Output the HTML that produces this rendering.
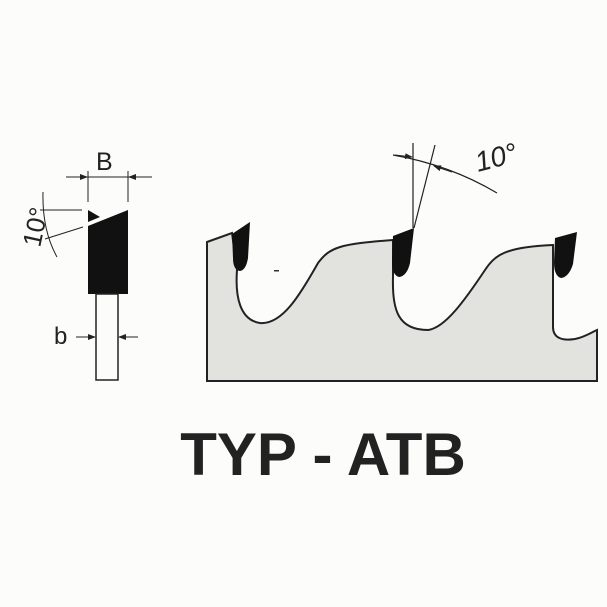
<!DOCTYPE html>
<html><head><style>
html,body{margin:0;padding:0;background:#fcfcfa;}
svg{display:block}
</style></head><body>
<svg width="607" height="607" viewBox="0 0 607 607" xmlns="http://www.w3.org/2000/svg">
<defs>
<marker id="ar" markerWidth="8" markerHeight="6" refX="7" refY="3" orient="auto" markerUnits="userSpaceOnUse"><path d="M0,0 L8,3 L0,6z" fill="#222"/></marker>
</defs>
<rect width="607" height="607" fill="#fcfcfa"/>
<!-- blade -->
<path d="M207,242 L232,233 L237,270 C235,297 240,320 260,323 C282,325 300,295 318,263 C330,247 340,244 393,240 L393,277 C392,310 398,330 428,330 C445,328 465,300 485,270 C495,255 505,247 553,245 L553,327 C553,338 562,341 575,339 C585,337 592,332 597,330 L597,381 L207,381 Z" fill="#e2e2df" stroke="#222" stroke-width="2"/>
<!-- teeth -->
<path d="M232,234 L250,222 L248,258 Q246,270 240,271 Q233,270 233,258 Z" fill="#111"/>
<path d="M393,236 L414,228 L410,263 Q407,276 399,277 Q392,275 392,262 Z" fill="#111"/>
<path d="M555,238 L577,232 L573,264 Q569,277 561,278 Q554,276 554,262 Z" fill="#111"/>
<rect x="274" y="270" width="5" height="1.5" fill="#333"/>
<!-- angle on right -->
<line x1="413" y1="143" x2="413" y2="228" stroke="#222" stroke-width="1.2"/>
<line x1="435" y1="145" x2="414" y2="228" stroke="#222" stroke-width="1.2"/>
<path d="M393,155 Q450,165 497,193" fill="none" stroke="#222" stroke-width="1.2"/>
<line x1="395" y1="155" x2="412" y2="157" stroke="#222" stroke-width="1" marker-end="url(#ar)"/>
<line x1="452" y1="172" x2="434" y2="166" stroke="#222" stroke-width="1" marker-end="url(#ar)"/>
<text x="478" y="172" font-family="Liberation Sans, sans-serif" font-size="28" fill="#222" font-style="italic" transform="rotate(-15 478 172)">10°</text>
<!-- left side view -->
<line x1="66" y1="177" x2="152" y2="177" stroke="#222" stroke-width="1"/>
<line x1="70" y1="177" x2="87" y2="177" stroke="#222" marker-end="url(#ar)"/>
<line x1="148" y1="177" x2="129" y2="177" stroke="#222" marker-end="url(#ar)"/>
<line x1="88" y1="171" x2="88" y2="202" stroke="#222" stroke-width="1"/>
<line x1="128" y1="171" x2="128" y2="202" stroke="#222" stroke-width="1"/>
<text x="96" y="170" font-family="Liberation Sans, sans-serif" font-size="25" fill="#222">B</text>
<path d="M88,210 L100,217 L88,222 Z" fill="#111"/>
<path d="M88,226 L128,210 L128,294 L88,294 Z" fill="#111"/>
<rect x="96" y="294" width="22" height="86" fill="#fcfcfa" stroke="#222" stroke-width="1.5"/>
<line x1="76" y1="337" x2="95" y2="337" stroke="#222" marker-end="url(#ar)"/>
<line x1="138" y1="337" x2="119" y2="337" stroke="#222" marker-end="url(#ar)"/>
<text x="54" y="344" font-family="Liberation Sans, sans-serif" font-size="24" fill="#222">b</text>
<line x1="40" y1="210" x2="82" y2="210" stroke="#222" stroke-width="1"/>
<line x1="45" y1="239" x2="83" y2="227" stroke="#222" stroke-width="1"/>
<path d="M43,192 Q42,230 57,257" fill="none" stroke="#222" stroke-width="1"/>
<text x="40" y="248" font-family="Liberation Sans, sans-serif" font-size="26" fill="#222" transform="rotate(-78 40 248)">10°</text>
<!-- title -->
<text x="323" y="475" text-anchor="middle" font-family="Liberation Sans, sans-serif" font-weight="bold" font-size="60" fill="#222">TYP - ATB</text>
</svg>
</body></html>
